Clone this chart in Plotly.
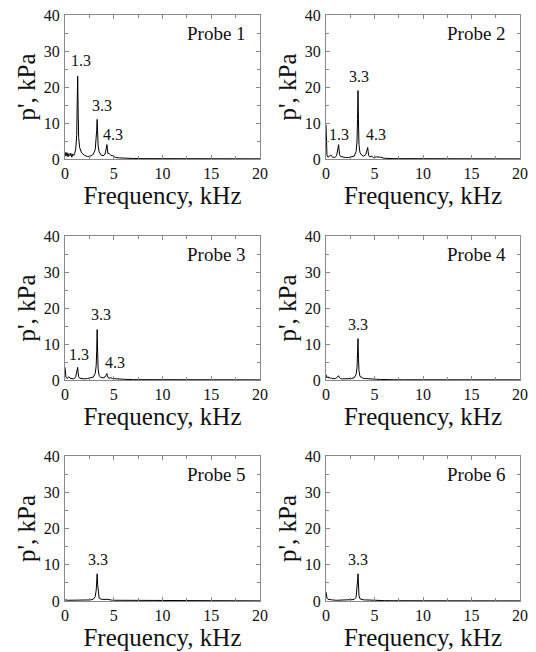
import plotly.graph_objects as go

# Shared frequency grid (kHz)
freq = [0, 0.1, 0.2, 0.3, 0.4, 0.5, 0.6, 0.7, 0.8, 0.9, 1.0, 1.1, 1.2, 1.25, 1.3, 1.35, 1.4, 1.5,
        1.7, 2.0, 2.3, 2.6, 2.9, 3.1, 3.2, 3.25, 3.3, 3.35, 3.4, 3.5, 3.7, 3.9, 4.1, 4.2, 4.25,
        4.3, 4.35, 4.4, 4.5, 4.7, 4.9, 5.2, 5.6, 6, 7, 8, 10, 12, 14, 16, 18, 20]

probe1 = [2.0, 0.8, 1.8, 0.6, 1.5, 0.9, 1.6, 0.5, 1.4, 1.0, 1.6, 2.8, 6.5, 14.0, 23.0, 13.0, 6.0, 3.2,
          1.7, 1.0, 0.7, 0.8, 1.3, 2.6, 5.0, 8.0, 11.0, 7.0, 3.6, 2.0, 1.1, 0.9, 1.3, 2.5, 3.5,
          4.0, 2.8, 1.5, 1.6, 1.0, 0.9, 0.4, 0.3, 0.2, 0.15, 0.1, 0.1, 0.08, 0.08, 0.06, 0.06, 0.05]
probe2 = [9.5, 1.0, 0.5, 0.6, 0.9, 1.1, 0.5, 0.4, 0.5, 0.4, 0.6, 1.0, 2.5, 3.5, 4.0, 2.5, 1.2, 0.7,
          0.5, 0.4, 0.4, 0.5, 0.8, 2.0, 5.0, 11.0, 19.0, 10.0, 4.0, 1.8, 1.0, 0.8, 1.2, 2.2, 3.0,
          3.2, 2.0, 1.0, 0.6, 0.8, 0.4, 0.6, 0.5, 0.2, 0.1, 0.1, 0.08, 0.06, 0.05, 0.05, 0.04, 0.04]
probe3 = [3.5, 0.8, 0.4, 0.6, 0.9, 0.5, 0.4, 0.3, 0.4, 0.3, 0.5, 0.9, 2.2, 3.0, 3.5, 2.0, 0.9, 0.5,
          0.4, 0.3, 0.4, 0.5, 0.8, 1.8, 4.0, 8.0, 14.0, 7.5, 3.0, 1.2, 0.7, 0.6, 0.8, 1.3, 1.7,
          1.8, 1.2, 0.7, 0.5, 0.6, 0.4, 0.4, 0.3, 0.2, 0.1, 0.08, 0.06, 0.05, 0.05, 0.04, 0.04, 0.04]
probe4 = [1.5, 0.6, 0.9, 0.5, 0.7, 0.4, 0.6, 0.3, 0.4, 0.3, 0.4, 0.6, 1.0, 1.2, 1.2, 0.8, 0.5, 0.4,
          0.3, 0.3, 0.3, 0.4, 0.6, 1.5, 3.5, 7.0, 11.5, 6.0, 2.5, 1.0, 0.6, 0.4, 0.4, 0.4, 0.4,
          0.3, 0.3, 0.3, 0.3, 0.2, 0.2, 0.2, 0.15, 0.1, 0.08, 0.06, 0.05, 0.05, 0.04, 0.04, 0.04, 0.04]
probe5 = [0.3, 0.2, 0.2, 0.2, 0.2, 0.2, 0.2, 0.2, 0.2, 0.2, 0.2, 0.3, 0.4, 0.4, 0.4, 0.3, 0.2, 0.2,
          0.2, 0.2, 0.2, 0.3, 0.5, 1.2, 3.0, 5.5, 7.5, 4.5, 2.0, 0.8, 0.5, 0.4, 0.4, 0.5, 0.5,
          0.5, 0.4, 0.3, 0.3, 0.3, 0.2, 0.2, 0.15, 0.1, 0.08, 0.06, 0.05, 0.05, 0.04, 0.04, 0.04, 0.04]
probe6 = [2.5, 0.8, 0.5, 0.4, 0.4, 0.3, 0.3, 0.3, 0.2, 0.2, 0.2, 0.2, 0.2, 0.2, 0.2, 0.2, 0.2, 0.2,
          0.2, 0.2, 0.2, 0.3, 0.4, 1.0, 3.0, 5.5, 7.5, 4.0, 1.5, 0.6, 0.4, 0.3, 0.3, 0.3, 0.3,
          0.3, 0.2, 0.2, 0.2, 0.2, 0.15, 0.15, 0.1, 0.1, 0.08, 0.06, 0.05, 0.05, 0.04, 0.04, 0.04, 0.04]

probes = [probe1, probe2, probe3, probe4, probe5, probe6]
probe_names = ["Probe 1", "Probe 2", "Probe 3", "Probe 4", "Probe 5", "Probe 6"]

# Peak labels: (text, frequency, pressure) per probe
peak_labels = [
    [("1.3", 1.6, 27.5), ("3.3", 3.75, 15.0), ("4.3", 4.95, 6.7)],
    [("1.3", 1.34, 6.7), ("3.3", 3.37, 22.9), ("4.3", 5.2, 6.7)],
    [("1.3", 1.44, 7.1), ("3.3", 3.66, 18.3), ("4.3", 5.13, 4.9)],
    [("3.3", 3.3, 15.5)],
    [("3.3", 3.42, 11.5)],
    [("3.3", 3.3, 11.5)],
]

x_ticks = [0, 5, 10, 15, 20]
y_ticks = [0, 10, 20, 30, 40]

FONT = "Liberation Serif"
PAGE_OFF = 8                       # default body margin of the page
W, H = 536 - PAGE_OFF, 652 - PAGE_OFF
col_px = [(65, 260), (326, 520)]   # window pixels
row_px = [(15, 159), (236, 380), (456, 601)]

fig = go.Figure()
annotations = []
layout = {}
for i in range(6):
    r, c = divmod(i, 2)
    n = "" if i == 0 else str(i + 1)
    xa, ya = "x" + n, "y" + n
    fig.add_trace(go.Scatter(x=freq, y=probes[i], mode="lines",
                             line=dict(color="black", width=1),
                             xaxis=xa, yaxis=ya, showlegend=False))
    xd = [(col_px[c][0] - PAGE_OFF) / W, (col_px[c][1] - PAGE_OFF) / W]
    yd = [1 - (row_px[r][1] - PAGE_OFF) / H, 1 - (row_px[r][0] - PAGE_OFF) / H]
    common = dict(showline=True, linecolor="#8a8a8a", linewidth=1, mirror="ticks",
                  ticks="inside", ticklen=4, tickcolor="#8a8a8a", showgrid=False,
                  zeroline=False, automargin=False, ticklabeloverflow="allow",
                  tickfont=dict(family=FONT, size=16, color="#111"))
    layout["xaxis" + n] = dict(common, domain=xd, anchor=ya, range=[0, 20],
                               tickvals=x_ticks, ticklabelstandoff=0,
                               minor=dict(ticks="inside", dtick=2.5, ticklen=3, tickcolor="#8a8a8a"),
                               title=dict(text="Frequency, kHz", standoff=3,
                                          font=dict(family=FONT, size=25, color="#111")))
    layout["yaxis" + n] = dict(common, domain=yd, anchor=xa, range=[0, 40],
                               tickvals=y_ticks, ticklabelstandoff=1,
                               minor=dict(ticks="inside", dtick=5, ticklen=3, tickcolor="#8a8a8a"),
                               title=dict(text="p', kPa", standoff=1,
                                          font=dict(family=FONT, size=25, color="#111")))
    annotations.append(dict(text=probe_names[i], xref=xa + " domain", yref=ya + " domain",
                            x=0.94, y=0.875, xanchor="right", yanchor="middle",
                            showarrow=False, font=dict(family=FONT, size=19, color="#111")))
    for txt, fx, py in peak_labels[i]:
        annotations.append(dict(text=txt, xref=xa, yref=ya, x=fx, y=py,
                                xanchor="center", yanchor="middle", showarrow=False,
                                font=dict(family=FONT, size=16, color="#111")))

fig.update_layout(width=W, height=H, margin=dict(l=0, r=0, t=0, b=0),
                  plot_bgcolor="white", paper_bgcolor="white",
                  annotations=annotations, **layout)
fig.write_html("out.html")
